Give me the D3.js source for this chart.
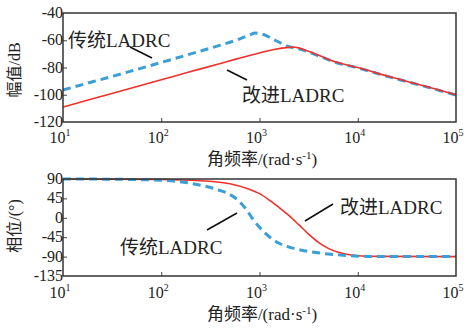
<!DOCTYPE html>
<html>
<head>
<meta charset="utf-8">
<script src="https://cdn.jsdelivr.net/npm/d3@7"></script>
<style>
  body { margin: 0; background: #fff; }
  text { font-family: "Liberation Serif", "Noto Sans CJK SC", serif; fill: #222; }
</style>
</head>
<body>
<div id="chart"></div>
<script>
const width = 470, height = 336;

// tick labels
const freqTicks = [1e1, 1e2, 1e3, 1e4, 1e5];
const magTicks = [-40, -60, -80, -100, -120];
const phaseTicks = [90, 45, 0, -45, -90, -135];

// magnitude (dB)
const magFreqBlue = [10, 20, 50, 100, 200, 400, 600, 800, 900, 1100, 1400, 2000, 2500, 3000, 4000, 6000, 10000, 20000, 50000, 100000];
const magBlue = [-96.5, -90.5, -82.5, -76.3, -70, -63.6, -59.6, -56, -54.7, -55.8, -59.5, -64.8, -66.3, -68, -71.5, -76.3, -80.3, -86.5, -94.2, -100.2];
const magFreqRed = [10, 20, 50, 100, 200, 400, 600, 1000, 1400, 2000, 2200, 2500, 3000, 4000, 6000, 10000, 20000, 50000, 100000];
const magRed = [-109, -103, -95, -89, -83, -77, -73.5, -69.3, -66.8, -65.2, -65, -65.6, -67.5, -71, -76, -80, -86.3, -94, -100];

// phase (deg)
const phFreqBlue = [10, 30, 100, 200, 400, 500, 630, 740, 850, 1000, 1260, 1580, 2240, 3160, 5000, 7940, 12600, 100000];
const phBlue = [90, 89.5, 87, 80, 63, 54, 37, 18, -2, -22, -44, -59, -71, -78, -84, -87.5, -89.5, -90];
const phFreqRed = [10, 100, 250, 500, 790, 1000, 1260, 1580, 2000, 2510, 3160, 3980, 5010, 6310, 7940, 10000, 15800, 100000];
const phRed = [90, 89, 86, 79, 66, 56, 41, 24, 5, -16, -38, -57, -71, -80, -85, -88, -89.5, -90];

const svg = d3.select("#chart")
  .append("svg")
  .attr("width", width)
  .attr("height", height);

const x = d3.scaleLog()
  .domain([1e1, 1e5])
  .range([63, 456]);

const yMag = d3.scaleLinear().domain([-120, -40]).range([122, 13]);
const yPh = d3.scaleLinear().domain([-135, 90]).range([276, 179]);

const zip = (fs, vs) => fs.map((f, i) => ({ f: f, v: vs[i] }));

function panel(y, ticks, series, labelY, yTitle, yTitleY) {
  const g = svg.append("g");
  const [y0, y1] = y.range();

  // inner ticks
  g.append("g")
    .attr("transform", `translate(0,${y0})`)
    .call(d3.axisTop(x).tickValues(freqTicks.slice(1, -1)).tickSize(4).tickFormat(""))
    .call(a => a.select(".domain").remove())
    .selectAll("line").attr("stroke", "#444");
  g.append("g")
    .attr("transform", `translate(${x.range()[0]},0)`)
    .call(d3.axisRight(y).tickValues(ticks.slice(1, -1)).tickSize(4).tickFormat(""))
    .call(a => a.select(".domain").remove())
    .selectAll("line").attr("stroke", "#444");

  // curves
  const line = d3.line()
    .x(d => x(d.f))
    .y(d => y(d.v))
    .curve(d3.curveMonotoneX);

  series.forEach(s => {
    g.append("path")
      .datum(s.data)
      .attr("d", line)
      .attr("fill", "none")
      .attr("stroke", s.color)
      .attr("stroke-width", s.w)
      .attr("stroke-dasharray", s.dash);
  });

  // frame
  g.append("rect")
    .attr("x", x.range()[0])
    .attr("y", y1)
    .attr("width", x.range()[1] - x.range()[0])
    .attr("height", y0 - y1)
    .attr("fill", "none")
    .attr("stroke", "#333")
    .attr("stroke-width", 1.5);

  // y tick labels
  g.selectAll(".yt")
    .data(ticks)
    .join("text")
    .attr("x", 63)
    .attr("y", d => y(d) + 5)
    .attr("text-anchor", "end")
    .attr("font-size", 16)
    .text(d => d < 0 ? "-" + Math.abs(d) : d);

  // x tick labels 10^n
  const xt = g.selectAll(".xt")
    .data(freqTicks)
    .join("text")
    .attr("x", d => x(d) - 3)
    .attr("y", labelY)
    .attr("text-anchor", "middle")
    .attr("font-size", 16);
  xt.append("tspan").text("10");
  xt.append("tspan").attr("dy", -7).attr("font-size", 10).text(d => Math.round(Math.log10(d)));

  // x title
  const xl = g.append("text")
    .attr("x", 262)
    .attr("y", labelY + 22)
    .attr("text-anchor", "middle")
    .attr("font-size", 17);
  xl.append("tspan").text("角频率/(rad·s");
  xl.append("tspan").attr("dy", -6).attr("font-size", 11).text("-1");
  xl.append("tspan").attr("dy", 6).text(")");

  // y title
  g.append("text")
    .attr("transform", `translate(20,${yTitleY}) rotate(-90)`)
    .attr("text-anchor", "middle")
    .attr("font-size", 16)
    .text(yTitle);
}

const blueStyle = { color: "#3a9fd6", w: 3, dash: "8,5" };
const redStyle = { color: "#f0302a", w: 1.6, dash: null };

panel(yMag, magTicks, [
  Object.assign({ data: zip(magFreqBlue, magBlue) }, blueStyle),
  Object.assign({ data: zip(magFreqRed, magRed) }, redStyle)
], 143, "幅值/dB", 70);

panel(yPh, phaseTicks, [
  Object.assign({ data: zip(phFreqRed, phRed) }, redStyle),
  Object.assign({ data: zip(phFreqBlue, phBlue) }, blueStyle)
], 298, "相位/(°)", 226);

// annotations
const notes = [
  { t: "传统LADRC", x: 68, y: 47, l: [130, 47, 152, 58] },
  { t: "改进LADRC", x: 242, y: 102, l: [227, 70, 247, 80] },
  { t: "传统LADRC", x: 120, y: 254, l: [207, 230, 237, 213] },
  { t: "改进LADRC", x: 340, y: 214, l: [305, 221, 333, 204] }
];
notes.forEach(n => {
  svg.append("line")
    .attr("x1", n.l[0]).attr("y1", n.l[1])
    .attr("x2", n.l[2]).attr("y2", n.l[3])
    .attr("stroke", "#111")
    .attr("stroke-width", 1.6);
  svg.append("text")
    .attr("x", n.x)
    .attr("y", n.y)
    .attr("font-size", 19)
    .text(n.t);
});
</script>
</body>
</html>
